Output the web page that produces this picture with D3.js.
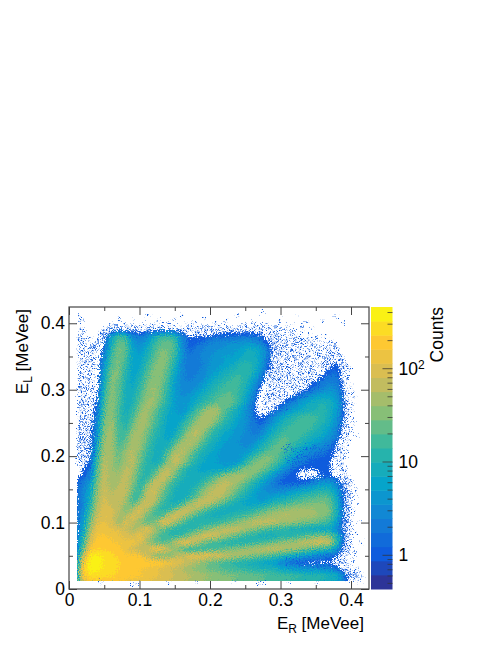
<!DOCTYPE html>
<html>
<head>
<meta charset="utf-8">
<script src="https://cdn.jsdelivr.net/npm/d3@7"></script>
<style>
  body { margin: 0; background: #fff; }
  text { font-family: "Liberation Sans", Arial, sans-serif; fill: #000; }
</style>
</head>
<body>
<div id="chart"></div>
<script>
// grid nodes every 0.01 MeVee, rows listed from the top of the plot down
const gridStepValue = 0.01;
const gridTop = 0.42;
// counts, one row per E_L, columns from E_R = 0
const counts = [
  /* .42 */ [],
  /* .41 */ [],
  /* .40 */ [],
  /* .39 */ [0,0,0,0,0,.7,1,1.2,1.2,1, 1,1,1,1.2,1.2,1.2,1,.7,.7,.8, .9,1,1.1,1.1,1.1,1.1,1.1,1,.8,.7],
  /* .38 */ [0,0,0,0,.5,1,6,16,14,3, 2,3,7,14,16,11,3,1.3,1.3,1.4, 1.5,1.6,1.6,1.7,1.7,1.8,1.8,1.6,1.2,.8, .7,.6],
  /* .37 */ [0,0,0,0,.5,1.3,8,26,22,5, 3,5,12,22,26,18,3,1.5,1.6,1.8, 2.5,3,3,3.5,4,4.5,4,3,1.5,1, .7,.6],
  /* .36 */ [0,0,0,0,.6,2,11,30,24,6, 4,7,16,28,28,18,3.5,1.6,1.8,2.5, 3,3.5,4,4,5,7,8,6,3,1, .7,.6],
  /* .35 */ [0,0,0,0,.6,3,15,30,20,6, 5,9,20,32,28,14,4,1.8,2,3, 3.5,4,5,5,6,8,9,6,2.5,1, .7,.6],
  /* .34 */ [0,0,0,0,.7,4,20,30,16,6, 6,12,25,36,26,10,3,1.8,2,2.5, 3.5,4,5,6,9,11,10,6,2,.9, .6,.5,.5,.5,.5,.6,.6,.8,1.4,.9],
  /* .33 */ [0,0,0,0,.7,6,24,30,13,6, 7,16,30,36,22,8,3,2,2,3, 4,5,7,9,12,13,10,5,1.5,.8, .6,.5,.5,.5,.6,.7,.9,1.5,1.6,1],
  /* .32 */ [0,0,0,0,.8,7,28,28,11,6, 9,20,35,34,18,6,3,2,2.5,3, 5,7,9,13,15,13,8,3,1.2,.7, .5,.5,.5,.6,.8,1,1.4,1.8,1.8,1],
  /* .31 */ [0,0,0,0,.8,9,30,26,10,6, 11,26,40,32,15,5,3,2.5,3,4, 7,10,13,16,16,11,5,2,.9,.6, .5,.5,.6,.9,1.2,1.5,2,2.5,2,1.1],
  /* .30 */ [0,0,0,.5,1,12,34,24,9,7, 14,30,42,28,12,5,3,3,4,6, 9,13,17,19,15,9,4,1.4,.7,.5, .5,.6,.7,1,1.5,2,3,4,3,1.2],
  /* .29 */ [0,0,0,.6,1.2,14,36,22,9,8, 18,35,42,26,11,5,3.5,4,6,9, 13,18,22,22,15,7,3,1.1,.6,.5, .7,1,1.5,2.5,3.5,5,6,6,4,1.3],
  /* .28 */ [0,0,0,.6,1.5,17,38,20,9,10, 22,40,40,22,10,5,4,5,8,12, 18,24,28,24,14,6,2.2,.9,.6,.7, 1.2,2,3,5,7,9,10,9,5,1.5],
  /* .27 */ [0,0,.5,.7,2,20,40,18,8,12, 32,46,30,14,8,5,4,6,14,28, 50,48,24,12,7,4,1.8,1,.9,1.2, 2,3.5,5,7,8.5,10,11,9,5,1.4],
  /* .26 */ [0,0,.5,.7,2.5,24,42,17,9,16, 40,44,24,12,7,5,5,12,24,48, 55,36,18,10,6,4,2,1.2,1.5,3, 5,8,11,14,16,15,12,8,4,1.2],
  /* .25 */ [0,0,.6,.8,3,28,45,17,10,22, 50,42,20,11,6,5,10,18,36,55, 48,24,12,8,5,3.5,2,1.5,2,4.5, 8,12,15,17,17,14,10,7,3.5,1.1],
  /* .24 */ [0,0,.6,.9,4,32,48,17,14,32, 52,34,16,9,6,6,14,32,58,48, 22,12,8,6,4,3.5,2,2,4,7, 11,16,18,18,15,11,8,5,2.5,1],
  /* .23 */ [0,0,.7,1,5,38,50,18,18,44, 50,26,13,8,6,9,22,50,60,30, 14,9,6,5,4,3,2.5,3,6,11, 17,20,18,14,10,8,6,4,2,.9],
  /* .22 */ [0,0,.7,1,7,46,50,18,24,52, 46,22,11,7,7,18,45,60,42,20, 10,7,5,4,3.5,3,3.5,6,10,16, 23,20,15,10,7,5,3.5,2.5,1.3,.8],
  /* .21 */ [0,0,.8,1.2,9,52,50,20,34,58, 38,17,10,7,14,40,62,45,22,11, 8,6,4,3.5,3.5,3.5,5,9,16,24, 22,15,9,6,4,3,2.4,1.8,1.1,.7],
  /* .20 */ [0,0,.8,1.3,12,58,48,24,44,62, 30,14,9,9,28,66,56,28,12,8, 6,5,4,4,4,6,12,22,30,28, 18,10,6,3.5,2.5,1.8,1.6,1.4,1.2,.8],
  /* .19 */ [0,.6,1,1.5,16,62,45,26,50,62, 26,12,9,11,36,70,46,20,10,7, 6,5,4,4,5,12,25,35,32,22, 12,6,3,2,1.5,1.3,1.3,1.3,1.1,.7],
  /* .18 */ [0,1,1.3,1.8,20,68,42,34,62,56, 20,11,14,38,72,40,16,9,7,6, 6,6,7,10,20,34,40,32,20,11, 5,2.5,1.5,1.3,1.3,1.3,1.3,1.3,1,.6],
  /* .17 */ [0,1,1.5,2,24,72,42,42,70,46, 16,12,24,66,68,26,12,8,7,8, 12,20,38,52,55,42,28,16,8,4, 2,1.5,1.3,1.2,1.2,1.2,1.3,1.5,1,.7],
  /* .16 */ [0,1.5,2,5,30,76,44,52,76,36, 13,20,70,72,30,13,9,8,9,14, 26,48,62,58,40,24,13,7,4,2.2, 1.5,1.3,1.3,1.4,1.8,3,4,4,2.5,.9],
  /* .15 */ [0,1.5,2.5,6,36,80,48,66,78,26, 13,48,84,44,18,10,8,9,13,30, 50,68,62,42,24,14,8,5,3,2.5, 2.5,3,4,5,6,8,10,9,4,1.2],
  /* .14 */ [0,1.5,3,8,44,85,60,74,60,20, 16,66,80,30,14,9,8,10,20,42, 70,72,50,28,15,9,6,4,4,5, 6,7,9,12,15,17,20,16,6,1.4],
  /* .13 */ [0,1.5,2.5,10,50,90,70,80,42,18, 40,90,60,20,11,8,12,32,72,78, 60,36,20,12,8,6,5,5,7,10, 12,16,20,24,26,28,30,24,8,1.6],
  /* .12 */ [0,1.5,3,14,60,100,85,70,30,44, 100,60,24,13,10,24,70,85,56,30, 16,10,8,8,8,9,11,14,20,28, 34,40,44,46,44,40,36,28,9,1.6],
  /* .11 */ [0,1.5,4,20,75,110,95,55,50,105, 70,30,18,18,60,100,70,30,16,10, 9,9,10,12,14,18,24,34,44,54, 58,58,54,48,44,40,34,24,8,1.4],
  /* .10 */ [0,1.5,5,30,100,120,90,40,110,70, 40,22,30,90,100,44,20,12,10,10, 12,14,18,24,34,50,68,76,70,60, 52,44,36,30,26,22,18,13,5,1.1],
  /* .09 */ [0,1.5,6,45,130,140,110,105,75,50, 70,115,70,30,16,12,11,12,16,24, 38,56,75,80,68,50,34,24,18,14, 12,10,9,8,7,6,6,6,3,1.2],
  /* .08 */ [0,2,9,70,160,170,130,130,90,90, 125,70,32,18,14,13,16,30,60,90, 95,75,50,30,20,14,11,9,8,8, 10,10,12,16,22,30,36,30,10,1.5],
  /* .07 */ [0,2,14,100,200,210,180,150,130,150, 110,50,26,20,24,60,120,110,60,30, 18,14,11,10,10,11,13,16,20,26, 34,42,52,64,75,85,90,70,14,1.5],
  /* .06 */ [0,2,24,170,220,220,210,200,130,75, 60,70,130,150,80,36,20,14,14,15, 17,20,24,30,36,44,54,62,70,70, 62,54,42,30,22,16,12,9,4,1.1],
  /* .05 */ [0,3,60,320,360,280,240,220,170,190, 160,80,40,26,30,50,75,100,120,130, 120,100,80,62,50,40,32,25,20,16, 12,9,7,5,4,3,2.5,2,1.4,.9],
  /* .04 */ [0,4,140,400,420,300,250,230,210,170, 170,200,210,190,150,120,90,65,48,34, 26,20,16,13,11,9,8,7,6,5, 3,2,1.5,1.2,1.2,1.2,1.2,1.2,.9,.7],
  /* .03 */ [0,6,200,420,380,270,240,225,210,180, 160,150,130,105,85,70,55,45,36,30, 26,22,19,17,15,14,12,11,10,10, 7,6,5,4,4,4,3.5,3,2,1],
  /* .02 */ [0,6,150,270,260,240,230,220,205,190, 170,150,130,110,95,80,70,60,52,45, 40,36,32,30,28,26,24,22,20,18, 17,16,15,14,13,12,11,10,8,2.5, .9],
  /* .01 */ [0,4,90,190,200,190,165,150,140,130, 120,110,100,90,80,70,60,52,46,40, 36,32,30,28,26,24,22,20,18,16, 15,14,13,12,11,10,9,8,6,2, .9],
  /* .00 */ []
];
// single-count bins in the thin regions, in keVee: E_L first, then its E_R values
const sparseBins = [
  [416,275],[412,158,238],[410,14,113,322,378],[406,72,150,192],[404,18,90,128,222,298,360],[402,14,72,178,260,338],
  [400,105,142,208,282,318,390],[398,62,80,120,165,186,245,268,312],
  [396,58,68,86,97,110,133,150,172,190,205,228,252,275,296,330],
  [394,52,64,75,92,104,118,127,141,158,170,183,197,212,224,238,249,263,281,292,308],
  [392,16,60,71,83,95,108,115,130,146,155,168,179,192,203,216,231,244,256,270,284,299,345],
  [390,49,57,66,74,88,99,112,122,136,149,161,174,186,199,209,221,235,247,259,273,288,302,318],
  [388,21,47,55,69,79,93,103,117,128,143,156,165,177,188,195,207,219,228,241,254,266,279,291,305,331],
  [386,45,53,61,84,100,125,152,167,181,192,204,215,226,238,250,262,274,286,296,314],
  [384,19,48,167,181,194,210,226,243,259,272,290,298,306,319,340],
  [382,30,46,52,172,186,201,218,236,251,266,283,294,303,316,330,352],
  [380,16,44,50,290,296,310,324,345,362],
  [378,27,43,286,292,301,315,336,350],
  [376,15,22,41,47,284,295,305,318,330,344,372],
  [374,18,40,287,298,309,322,340,356],
  [372,29,38,44,285,293,303,315,328,336,351,368],
  [370,14,24,42,288,296,306,319,333,347,362,374],
  [368,20,36,284,291,301,312,325,341,356,370],
  [366,16,33,39,286,294,305,317,330,344,358,366,378],
  [364,25,37,288,298,309,322,336,350,364,376],
  [362,14,30,35,285,292,302,315,328,342,356,371,381],
  [360,19,27,34,289,297,307,320,333,347,362,368],
  [358,22,38,286,293,304,316,327,340,353,372,380],
  [356,15,32,36,288,300,311,324,338,351,365,377],
  [354,28,285,295,306,318,330,344,359,370,383],
  [352,17,21,34,290,298,309,322,336,349,363,374,381],
  [350,30,287,302,315,328,341,355,368,378,385],
  [348,14,24,36,285,294,306,319,333,346,360,372,384],
  [346,19,38,289,299,311,324,338,352,365,376,388],
  [344,27,33,286,296,308,321,335,348,362,370,382],
  [342,15,22,283,292,304,316,329,343,356,368,379,390],
  [340,35,288,300,312,326,339,353,365,374,386],
  [338,18,28,285,294,307,320,334,347,360,372,392],
  [336,14,31,290,302,316,330,344,357,370,384,395],
  [334,24,36,287,298,310,324,338,351,364,388],
  [332,20,284,295,306,319,333,346,359,368,391],
  [330,16,29,35,290,301,314,328,342,355,398],
  [328,23,287,297,309,322,336,349,362,386],
  [326,14,33,283,293,304,317,331,344,390],
  [324,19,27,289,300,312,326,340,352,394],
  [322,37,284,295,307,320,334,347,360,388],
  [320,16,23,291,302,315,329,343,355],
  [318,30,286,297,309,323,337,350,393],
  [316,14,20,282,293,305,318,332,345,396],
  [314,27,35,288,300,313,327,340,389],
  [312,18,284,295,308,321,335,354],
  [310,15,24,32,290,303,316,330,344,392],
  [308,21,286,298,311,325,338,400],
  [306,14,28,282,293,306,320,333,349,390],
  [304,18,36,288,301,314,328,342],
  [302,24,31,284,296,309,323,336,395],
  [300,15,20,290,303,317,331,352,388],
  [298,27,38,286,298,312,326,340,402],
  [296,18,34,281,293,306,320,334,391],
  [294,14,23,288,300,314,328,345,397],
  [292,29,284,295,309,323,338,389],
  [290,16,36,280,291,304,318,332,393],
  [288,21,27,286,298,312,326,405],
  [286,14,32,282,293,307,321,390],
  [284,18,24,278,289,302,316,396],
  [282,29,37,284,296,310,392],
  [280,15,21,275,290,304,318,399],
  [278,26,33,280,294,308,391],
  [276,18,36,286,300,402],
  [274,14,23,276,292,394],
  [272,29,282,298,390],
  [270,16,21,272,288,306,397],
  [268,26,34,278,294,392],
  [266,15,19,284,401],
  [264,24,31,274,395],
  [262,18,28,280,390],
  [260,14,22,36,398],
  [258,26,33,392],[256,17,20,404],[254,14,29,390],[252,23,34,396],[250,17,26,392],[248,14,20,31,402],
  [246,24,35,390],[244,16,28,397],[242,20,33,393],[240,14,24,36,388],[238,18,29,400],[236,15,22,32,391],
  [234,26,36,396],[232,14,19,30,408],[230,23,34,389],[228,16,27,393],[226,14,20,31,398],[224,18,25,35,387],
  [222,15,22,29,392],[220,13,27,33,385],[218,18,24,36,396],[216,15,21,30,350,366,388],
  [214,13,26,34,312,328,345,372,383],[212,17,23,305,322,336,352,378,391],[210,14,20,29,316,331,347,361,385],
  [208,24,33,308,325,340,356,370,381],[206,16,27,35,318,334,349,366,395],[204,13,21,30,306,327,342,358,376,387],
  [202,18,25,314,331,348,363,382],[200,15,22,33,322,338,354,371,390],[198,27,310,328,344,361,378,385],
  [196,13,19,30,318,336,351,368,393],[194,24,322,340,357,373,388],[192,16,21,312,331,347,364,380],
  [190,28,325,339,355,370,386],[188,14,19,318,333,349,366,391],[186,23,326,343,358,375,384],
  [184,16,316,334,350,366,388],[182,322,340,356,372,394],[180,19,328,346,362,378,386],[178,312,335,351,368,389],
  [176,320,338,357,374,385],[174,327,345,362,392],[172,308,333,350,369,387],[170,318,339,356,391],
  [168,326,345,384,395],[166,312,333,387],[164,320,392,398],
  [162,390,400],[160,388,394],[158,392,403],[156,389,396],[154,391,399],[152,387,394],[150,392,406],[148,389,397],
  [146,393,401],[144,390,396],[142,388,394,408],[140,391,399],[138,393],[136,388,396],[134,391,403],[132,394,399],
  [130,389,392],[128,395,410],[126,391,398],[124,388,393],[122,395,402],[120,390,397],[118,392],[116,388,395],
  [114,398,404],[112,391,394],[110,396],[108,389,400],[106,393],[104,391,397],[102,394,415],[100,389,396],
  [98,392,401],[96,395],[94,391,398],[92,388,393],[90,396,404],[88,391],[86,394,399],[84,392,408],[82,389,396],
  [80,393,402],[78,396],[76,391,399],[74,394],[72,388,397],[70,392,415],[68,395,401],[66,390],[64,393,398],
  [62,388,396],[60,391,404],[58,394],[56,389,398],[54,386,392,406],
  [52,352,368,384,394],[50,340,358,372,388],[48,322,345,363,379,398],[46,312,333,352,370,386],
  [44,318,341,359,376,392],[42,306,329,348,366,382,404],[40,314,336,355,372,389],[38,323,343,361,378,395],
  [36,310,331,350,368,384,401],[34,338,357,374,391],[32,345,362,380,396,408],[30,352,371,388,400],[28,394,402],
  [26,391,398,406],[24,396,403,412],[22,392,400,408],[20,397,405,415],[18,393,402,410],[16,396,406],[14,391,400,412],
  [10,45,95,140,180,235,270,312,352],[8,90,275]
];
const xTicks = [0, 0.1, 0.2, 0.3, 0.4];
const xMinorTicks = [0.05, 0.15, 0.25, 0.35];
const yTicks = [0, 0.1, 0.2, 0.3, 0.4];
const yMinorTicks = [0.05, 0.15, 0.25, 0.35];
const zTicks = [1, 10, 100];
const zMinorTicks = [0.5, 0.6, 0.7, 0.8, 0.9, 2, 3, 4, 5, 6, 7, 8, 9, 20, 30, 40, 50, 60, 70, 80, 90, 200, 300, 400];
const zRange = [0.43, 453];
// ROOT "bird" palette stops
const birdStops = ["#352a87", "#0f5cdd", "#1481d6", "#06a4ca", "#2eb7a4", "#87bf77", "#d1bb59", "#fec832", "#f9fb0e"];
const nLevels = 20;

const width = 498, height = 645;
const margin = { left: 69, right: 129, top: 307, bottom: 56 };
const innerWidth = width - margin.left - margin.right;
const innerHeight = height - margin.top - margin.bottom;

const svg = d3.select("#chart").append("svg")
    .attr("width", width)
    .attr("height", height);

// fine grain so the band edges read like histogram bins, not a smooth map
const grain = svg.append("defs").append("filter")
    .attr("id", "grain")
    .attr("color-interpolation-filters", "sRGB");
grain.append("feTurbulence")
    .attr("type", "fractalNoise")
    .attr("baseFrequency", 0.85)
    .attr("numOctaves", 1)
    .attr("seed", 3)
    .attr("result", "noise");
grain.append("feDisplacementMap")
    .attr("in", "SourceGraphic")
    .attr("in2", "noise")
    .attr("scale", 14)
    .attr("xChannelSelector", "R")
    .attr("yChannelSelector", "G");

const g = svg.append("g")
    .attr("transform", `translate(${margin.left},${margin.top})`);

const xScale = d3.scaleLinear().domain([0, 0.4255]).range([0, innerWidth]);
const yScale = d3.scaleLinear().domain([0, 0.4245]).range([innerHeight, 0]);
const zScale = d3.scaleLog().domain(zRange).range([innerHeight, 0]);

const birdScale = d3.scaleLinear()
    .domain(birdStops.map((d, i) => i / (birdStops.length - 1)))
    .range(birdStops);
const levelColour = i => birdScale((i + 0.5) / nLevels);
const levelEdges = d3.range(nLevels + 1).map(i =>
    Math.pow(10, Math.log10(zRange[0]) + i * (Math.log10(zRange[1]) - Math.log10(zRange[0])) / nLevels));

// --- 2D histogram, filled bands per palette level
const nCols = 43;
const nRows = counts.length;
const logValues = [];
counts.forEach(function(row) {
    for (let c = 0; c < nCols; c++) {
        logValues.push(Math.log10(Math.max(row[c] || 0, 0.1)));
    }
});

const gridProjection = d3.geoTransform({
    point: function(c, r) {
        this.stream.point(xScale((c - 0.5) * gridStepValue),
                          yScale(gridTop - (r - 0.5) * gridStepValue));
    }
});
const gridPath = d3.geoPath(gridProjection);

g.append("clipPath").attr("id", "hist-clip").append("rect")
    .attr("x", xScale(0.0115))
    .attr("y", 0)
    .attr("width", innerWidth - xScale(0.0115))
    .attr("height", yScale(0.012));

// bins near one count only fill solid once they average a bit above it
const bandEdges = [1.3, 1.6].concat(levelEdges.slice(4, nLevels));
const bands = d3.contours()
    .size([nCols, nRows])
    .smooth(true)
    .thresholds(bandEdges.map(Math.log10))(logValues);

g.append("g").attr("clip-path", "url(#hist-clip)")
    .append("g").attr("filter", "url(#grain)")
    .selectAll("path").data(bands)
    .enter().append("path")
    .attr("d", gridPath)
    .attr("fill", (d, i) => levelColour(i + 2));

const sparseDots = [];
sparseBins.forEach(function(row) {
    row.slice(1).forEach(function(x) {
        sparseDots.push([x / 1000, row[0] / 1000]);
    });
});

g.append("g").attr("filter", "url(#grain)")
    .selectAll("rect").data(sparseDots)
    .enter().append("rect")
    .attr("x", d => xScale(d[0]) - 0.8)
    .attr("y", d => yScale(d[1]) - 0.8)
    .attr("width", 1.6)
    .attr("height", 1.6)
    .attr("fill", levelColour(2));

// --- axes
const axisColour = "#444";

function styleAxis(sel) {
    sel.selectAll(".domain").remove();
    sel.selectAll("line").attr("stroke", axisColour).attr("stroke-width", 1);
    sel.selectAll("text").style("font-size", "17.5px");
    sel.selectAll("text").filter(function() { return !this.textContent; }).remove();
}

const xFormat = d => d === 0 ? "0" : d3.format(".1f")(d);

g.append("g").attr("transform", `translate(0,${innerHeight})`)
    .call(d3.axisBottom(xScale).tickValues(xTicks).tickSize(-8).tickPadding(5).tickFormat(xFormat))
    .call(styleAxis);
g.append("g").attr("transform", `translate(0,${innerHeight})`)
    .call(d3.axisBottom(xScale).tickValues(xMinorTicks).tickSize(-4).tickFormat(""))
    .call(styleAxis);
g.append("g")
    .call(d3.axisTop(xScale).tickValues(xTicks).tickSize(-8).tickFormat(""))
    .call(styleAxis);
g.append("g")
    .call(d3.axisTop(xScale).tickValues(xMinorTicks).tickSize(-4).tickFormat(""))
    .call(styleAxis);

g.append("g")
    .call(d3.axisLeft(yScale).tickValues(yTicks).tickSize(-8).tickPadding(4).tickFormat(xFormat))
    .call(styleAxis);
g.append("g")
    .call(d3.axisLeft(yScale).tickValues(yMinorTicks).tickSize(-4).tickFormat(""))
    .call(styleAxis);
g.append("g").attr("transform", `translate(${innerWidth},0)`)
    .call(d3.axisRight(yScale).tickValues(yTicks).tickSize(-8).tickFormat(""))
    .call(styleAxis);
g.append("g").attr("transform", `translate(${innerWidth},0)`)
    .call(d3.axisRight(yScale).tickValues(yMinorTicks).tickSize(-4).tickFormat(""))
    .call(styleAxis);

g.append("rect")
    .attr("x", 0).attr("y", 0)
    .attr("width", innerWidth).attr("height", innerHeight)
    .attr("fill", "none")
    .attr("stroke", axisColour)
    .attr("stroke-width", 1.2);

// --- colour bar
const barX = 302, barW = 21.5;
const bar = g.append("g").attr("transform", `translate(${barX},0)`);
bar.selectAll("rect").data(d3.range(nLevels))
    .enter().append("rect")
    .attr("x", 0)
    .attr("width", barW)
    .attr("y", i => zScale(levelEdges[i + 1]))
    .attr("height", i => zScale(levelEdges[i]) - zScale(levelEdges[i + 1]) + 0.5)
    .attr("fill", i => levelColour(i));

const zAxisG = g.append("g").attr("transform", `translate(${barX + barW},0)`);
zAxisG.call(d3.axisRight(zScale).tickValues(zTicks).tickSize(-10).tickFormat(""))
    .call(styleAxis);
zAxisG.append("g")
    .call(d3.axisRight(zScale).tickValues(zMinorTicks).tickSize(-5).tickFormat(""))
    .call(styleAxis);
zAxisG.selectAll("line").attr("stroke", "#333").attr("stroke-opacity", 0.75);

const zLabels = g.append("g").selectAll("text").data(zTicks)
    .enter().append("text")
    .attr("x", barX + barW + 6)
    .attr("y", d => zScale(d))
    .attr("dy", "0.36em")
    .style("font-size", "17.5px")
    .text(d => d === 100 ? "10" : d);
zLabels.filter(d => d === 100).append("tspan")
    .attr("dy", "-0.45em")
    .style("font-size", "12px")
    .text("2");

// --- titles
function subscriptTitle(sel, sub) {
    sel.style("font-size", "17px").attr("text-anchor", "end");
    sel.append("tspan").text("E");
    sel.append("tspan").attr("dy", "0.3em").style("font-size", "12px").text(sub);
    sel.append("tspan").attr("dy", "-0.21em").text(" [MeVee]");
}

g.append("text")
    .attr("x", innerWidth - 5)
    .attr("y", 322)
    .call(subscriptTitle, "R");

g.append("text")
    .attr("transform", "translate(-41,2) rotate(-90)")
    .call(subscriptTitle, "L");

g.append("text")
    .attr("transform", `translate(${barX + 72},0) rotate(-90)`)
    .attr("text-anchor", "end")
    .style("font-size", "17.5px")
    .text("Counts");
</script>
</body>
</html>
